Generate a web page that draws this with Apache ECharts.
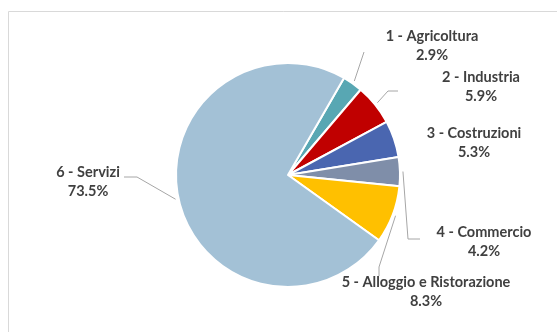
<!DOCTYPE html>
<html>
<head>
<meta charset="utf-8">
<script src="https://cdn.jsdelivr.net/npm/echarts@6/dist/echarts.min.js"></script>
<style>
  html, body { margin: 0; padding: 0; background: #ffffff; }
  #chart { width: 557px; height: 332px; }
</style>
</head>
<body>
<div id="chart"></div>
<script>
// Sector shares (%) by branch of activity
const categories = [
  '1 - Agricoltura',
  '2 - Industria',
  '3 - Costruzioni',
  '4 - Commercio',
  '5 - Alloggio e Ristorazione',
  '6 - Servizi'
];
const shares = [2.9, 5.9, 5.3, 4.2, 8.3, 73.5];
const colors = ['#58a7b3', '#c00000', '#4a66b0', '#7f8ea9', '#ffc000', '#a3c1d6'];

// Pie geometry in pixels
const CX = 288, CY = 175, R = 112;

// Label anchors (centre of the two-line block) and leader-line bends
const labelSpots = [
  { x: 432, y: 46,  bends: [[364, 52]] },
  { x: 481, y: 87,  bends: [[388, 91], [398, 91]] },
  { x: 474, y: 143, bends: null },
  { x: 484, y: 242, bends: [[408, 239], [420, 239]] },
  { x: 426, y: 292, bends: [[379, 267], [379, 276]] },
  { x: 88,  y: 182, bends: [[137, 177], [124, 177]] }
];

const chart = echarts.init(document.getElementById('chart'), null, { renderer: 'canvas' });

const data = categories.map((name, i) => ({
  name: name,
  value: shares[i],
  itemStyle: { color: colors[i] },
  labelLine: { show: labelSpots[i].bends !== null }
}));

chart.setOption({
  animation: false,
  graphic: [{
    type: 'rect',
    shape: { x: 8.5, y: 11.5, width: 600, height: 360 },
    style: { fill: 'none', stroke: '#d9d9d9', lineWidth: 1 },
    silent: true,
    z: -1
  }],
  series: [{
    type: 'pie',
    center: [CX, CY],
    radius: [0, R],
    startAngle: 60,
    clockwise: true,
    avoidLabelOverlap: false,
    itemStyle: { borderColor: '#ffffff', borderWidth: 2 },
    label: {
      show: true,
      position: 'outside',
      formatter: p => p.name + '\n' + p.value.toFixed(1) + '%',
      fontFamily: 'Lato',
      fontWeight: 'bold',
      fontSize: 14.5,
      lineHeight: 19,
      color: '#404040',
      align: 'center'
    },
    labelLine: {
      show: true,
      length: 10,
      length2: 10,
      lineStyle: { color: '#a6a6a6', width: 1 }
    },
    labelLayout: function (params) {
      const spot = labelSpots[params.dataIndex];
      const out = { x: spot.x, y: spot.y, align: 'center', verticalAlign: 'middle' };
      const pts = params.labelLinePoints;
      if (spot.bends && pts && pts.length) {
        // start slightly outside the rim, along the slice's mid direction
        const dx = pts[0][0] - CX, dy = pts[0][1] - CY;
        const len = Math.sqrt(dx * dx + dy * dy) || 1;
        const start = [CX + dx / len * (R + 3), CY + dy / len * (R + 3)];
        out.labelLinePoints = [start].concat(spot.bends);
      }
      return out;
    },
    data: data
  }]
});
</script>
</body>
</html>
